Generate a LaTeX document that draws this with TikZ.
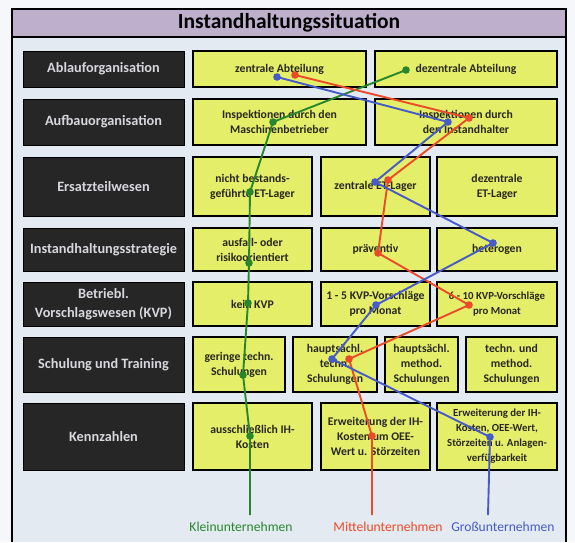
\documentclass[tikz,border=0pt]{standalone}
\usepackage{fontspec}
\setmainfont{Carlito}
\definecolor{ybox}{RGB}{228,238,104}
\definecolor{dbox}{RGB}{38,38,38}
\definecolor{dtext}{RGB}{215,215,222}
\definecolor{ytext}{RGB}{40,40,30}
\definecolor{titlebg}{RGB}{190,176,204}
\definecolor{innerbg}{RGB}{228,234,242}
\definecolor{outerbg}{RGB}{246,247,250}
\definecolor{kgreen}{RGB}{40,135,45}
\definecolor{mred}{RGB}{235,75,40}
\definecolor{gblue}{RGB}{70,90,200}
\tikzset{
  yb/.style={draw=black, line width=1.5pt, fill=ybox, inner sep=0pt, align=center,
    font=\fontsize{11.7}{15}\selectfont\bfseries, text=ytext},
  ybs/.style={yb, font=\fontsize{10.8}{15}\selectfont\bfseries},
  db/.style={draw=black, line width=1pt, fill=dbox, inner sep=0pt, align=center,
    font=\fontsize{14.3}{19}\selectfont\bfseries, text=dtext, minimum width=161pt},
  gl/.style={draw=kgreen, line width=1.9pt},
  rl/.style={draw=mred, line width=1.9pt},
  bl/.style={draw=gblue, line width=1.9pt},
  legend/.style={font=\fontsize{13.6}{15}\selectfont, inner sep=0pt}
}
\begin{document}
\begin{tikzpicture}[x=1pt,y=-1pt]
\useasboundingbox (0,0) rectangle (575,542);
\fill[outerbg] (0,0) rectangle (575,542);
% frame
\fill[innerbg] (12,9) rectangle (566,542);
\draw[line width=1.5pt] (12,542) -- (12,9) -- (566,9) -- (566,542);
\node[draw=black, line width=1.5pt, fill=titlebg, minimum width=554pt, minimum height=28pt, inner sep=0pt,
  font=\fontsize{21.5}{24}\selectfont\bfseries] (title) at (289,23) {Instandhaltungssituation};

% row labels
\node[db, minimum height=36pt] (l1) at (103.5,69) {Ablauforganisation};
\node[db, minimum height=46pt] (l2) at (103.5,122) {Aufbauorganisation};
\node[db, minimum height=59pt] (l3) at (103.5,186.5) {Ersatzteilwesen};
\node[db, minimum height=43pt] (l4) at (103.5,249.5) {Instandhaltungsstrategie};
\node[db, minimum height=44pt] (l5) at (103.5,304) {Betriebl.\\Vorschlagswesen (KVP)};
\node[db, minimum height=55pt] (l6) at (103.5,364.5) {Schulung und Training};
\node[db, minimum height=67pt] (l7) at (103.5,436.5) {Kennzahlen};

% row 1
\node[yb, minimum width=173pt, minimum height=36pt] (a1) at (279.5,69) {zentrale Abteilung};
\node[yb, minimum width=182pt, minimum height=36pt] (a2) at (466,69) {dezentrale Abteilung};
% row 2
\node[yb, minimum width=173pt, minimum height=46pt] (b1) at (279.5,122) {Inspektionen durch den\\Maschinenbetrieber};
\node[yb, minimum width=182pt, minimum height=46pt] (b2) at (466,122) {Inspektionen durch\\den Instandhalter};
% row 3
\node[yb, minimum width=119pt, minimum height=59pt] (c1) at (252.5,186.5) {nicht bestands-\\geführte ET-Lager};
\node[yb, minimum width=109pt, minimum height=59pt] (c2) at (375.5,186.5) {zentrale ET-Lager};
\node[yb, minimum width=120pt, minimum height=59pt] (c3) at (497,186.5) {dezentrale\\ET-Lager};
% row 4
\node[yb, minimum width=119pt, minimum height=43pt] (d1) at (252.5,249.5) {ausfall- oder\\risikoorientiert};
\node[yb, minimum width=109pt, minimum height=43pt] (d2) at (375.5,249.5) {präventiv};
\node[yb, minimum width=120pt, minimum height=43pt] (d3) at (497,249.5) {heterogen};
% row 5
\node[yb, minimum width=119pt, minimum height=44pt] (e1) at (252.5,304) {kein KVP};
\node[yb, minimum width=109pt, minimum height=44pt] (e2) at (375.5,304) {1 - 5 KVP-Vorschläge\\pro Monat};
\node[ybs, minimum width=120pt, minimum height=44pt] (e3) at (497,304) {6 - 10 KVP-Vorschläge\\pro Monat};
% row 6
\node[yb, minimum width=92pt, minimum height=55pt] (f1) at (239,364.5) {geringe techn.\\Schulungen};
\node[yb, minimum width=84pt, minimum height=55pt] (f2) at (335,364.5) {hauptsächl.\\techn.\\Schulungen};
\node[yb, minimum width=73pt, minimum height=55pt] (f3) at (421.5,364.5) {hauptsächl.\\method.\\Schulungen};
\node[yb, minimum width=91pt, minimum height=55pt] (f4) at (511.5,364.5) {techn. und\\method.\\Schulungen};
% row 7
\node[yb, minimum width=119pt, minimum height=67pt] (h1) at (252.5,436.5) {ausschließlich IH-\\Kosten};
\node[yb, minimum width=109pt, minimum height=67pt] (h2) at (375.5,436.5) {Erweiterung der IH-\\Kosten um OEE-\\Wert u. Störzeiten};
\node[ybs, minimum width=120pt, minimum height=67pt] (h3) at (497,436.5) {Erweiterung der IH-\\Kosten, OEE-Wert,\\Störzeiten u. Anlagen-\\verfügbarkeit};

% profile points
\coordinate (g1) at (406,70);  \coordinate (g2) at (273,122); \coordinate (g3) at (250,192);
\coordinate (g4) at (249,263); \coordinate (g5) at (248,303); \coordinate (g6) at (243,375);
\coordinate (g7) at (250,436); \coordinate (gend) at (250,515);
\coordinate (r1) at (295,75);  \coordinate (r2) at (469,118); \coordinate (r3) at (388,180);
\coordinate (r4) at (378,253); \coordinate (r5) at (469,305); \coordinate (r6) at (349,359);
\coordinate (r7) at (372,436); \coordinate (rend) at (372,515);
\coordinate (p1) at (277,77);  \coordinate (p2) at (448,122); \coordinate (p3) at (375,182);
\coordinate (p4) at (493,243); \coordinate (p5) at (376,305); \coordinate (p6) at (332,359);
\coordinate (p7) at (490,437); \coordinate (pend) at (488,515);

\draw[gl] (g1) -- (g2) -- (g3) -- (g4) -- (g5) -- (g6) -- (g7) -- (gend);
\draw[rl] (r1) -- (r2) -- (r3) -- (r4) -- (r5) -- (r6) -- (r7) -- (rend);
\draw[bl] (p1) -- (p2) -- (p3) -- (p4) -- (p5) -- (p6) -- (p7) -- (pend);
\foreach \n in {g1,g2,g3,g4,g5,g6,g7} \fill[kgreen] (\n) circle (3.8);
\foreach \n in {r1,r2,r3,r4,r5,r6,r7} \fill[mred] (\n) circle (3.8);
\foreach \n in {p1,p2,p3,p4,p5,p6,p7} \fill[gblue] (\n) circle (3.8);

% legend
\node[legend, text=kgreen] (kl) at (241,527) {Kleinunternehmen};
\node[legend, text=mred] (ml) at (388,527) {Mittelunternehmen};
\node[legend, text=gblue] (gu) at (503,527) {Großunternehmen};
\end{tikzpicture}
\end{document}
